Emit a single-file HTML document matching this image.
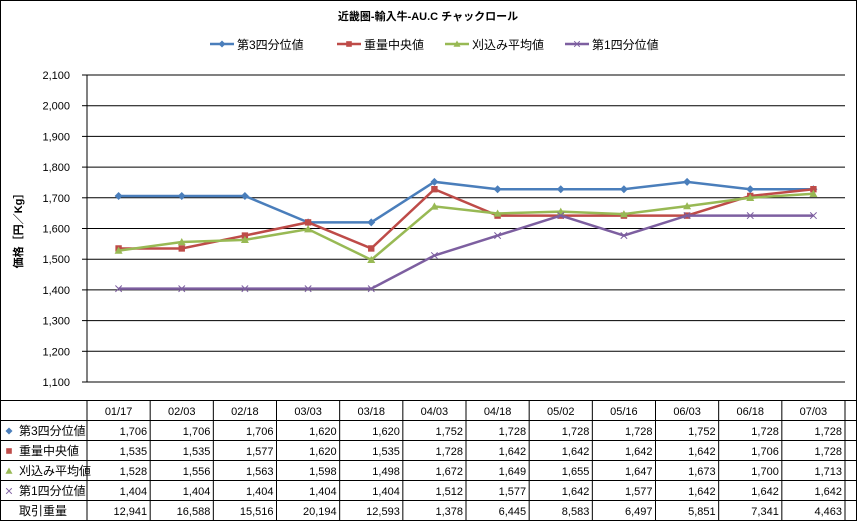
<!DOCTYPE html>
<html><head><meta charset="utf-8"><style>
body{margin:0;background:#fff;}
#wrap{position:relative;width:857px;height:521px;overflow:hidden;font-family:"Liberation Sans","Noto Sans CJK JP",sans-serif;}
svg text{font-family:"Liberation Sans","Noto Sans CJK JP",sans-serif;}
</style></head><body>
<div id="wrap">
<svg id="chart" width="857" height="521"></svg>
</div>
<script>
const categories=["01/17","02/03","02/18","03/03","03/18","04/03","04/18","05/02","05/16","06/03","06/18","07/03"];
const q3=[1706,1706,1706,1620,1620,1752,1728,1728,1728,1752,1728,1728];
const median=[1535,1535,1577,1620,1535,1728,1642,1642,1642,1642,1706,1728];
const avg=[1528,1556,1563,1598,1498,1672,1649,1655,1647,1673,1700,1713];
const q1=[1404,1404,1404,1404,1404,1512,1577,1642,1577,1642,1642,1642];
const volume=[12941,16588,15516,20194,12593,1378,6445,8583,6497,5851,7341,4463];
const yTicks=[1100,1200,1300,1400,1500,1600,1700,1800,1900,2000,2100];
const seriesNames=["第3四分位値","重量中央値","刈込み平均値","第1四分位値"];

const NS="http://www.w3.org/2000/svg";
const svg=document.getElementById('chart');
const L=87,R=845,T=75,B=382,yMin=1100,yMax=2100;
const colW=(R-L)/categories.length;
const x=i=>L+colW*(i+0.5);
const y=v=>B-(v-yMin)/(yMax-yMin)*(B-T);
function el(tag,attrs,text){const e=document.createElementNS(NS,tag);for(const k in attrs)e.setAttribute(k,attrs[k]);if(text!==undefined)e.textContent=text;svg.appendChild(e);return e;}
const fmt=v=>v.toLocaleString('en-US');

let e=el('rect',{x:0.5,y:0.5,width:856,height:520,fill:'#fff',stroke:'#000'});


e=el('text',{x:428,y:20,'font-size':11,'font-weight':'bold','text-anchor':'middle'},'近畿圏-輸入牛-AU.C チャックロール');



yTicks.forEach(t=>{
 let g=el('line',{x1:L,x2:R,y1:y(t),y2:y(t),stroke:'#000','stroke-width':1});
 
 
 let tk=el('line',{x1:L-5,x2:L,y1:y(t),y2:y(t),stroke:'#000'});
 
 
 let lb=el('text',{x:L-17,y:y(t)+4,'font-size':11,'text-anchor':'end'},fmt(t));
 
 
});
e=el('line',{x1:L,x2:L,y1:T,y2:B,stroke:'#000'});


e=el('text',{x:22,y:228,'font-size':11,'font-weight':'bold','text-anchor':'middle',transform:'rotate(-90 22 228)'},'価格［円／Kg］');



const series=[{d:q3,c:'#4a7ebb',m:'diamond'},{d:median,c:'#be4b48',m:'square'},{d:avg,c:'#98b954',m:'triangle'},{d:q1,c:'#7d5fa0',m:'x'}];
function marker(m,cx,cy,c,s){
 let mk;
 if(m==='diamond')mk=el('path',{d:`M${cx},${cy-s}L${cx+s},${cy}L${cx},${cy+s}L${cx-s},${cy}Z`,fill:c});
 else if(m==='square')mk=el('rect',{x:cx-s*0.8,y:cy-s*0.8,width:s*1.6,height:s*1.6,fill:c});
 else if(m==='triangle')mk=el('path',{d:`M${cx},${cy-s}L${cx+s},${cy+s*0.8}L${cx-s},${cy+s*0.8}Z`,fill:c});
 else mk=el('path',{d:`M${cx-s*0.8},${cy-s*0.8}L${cx+s*0.8},${cy+s*0.8}M${cx-s*0.8},${cy+s*0.8}L${cx+s*0.8},${cy-s*0.8}`,stroke:c,'stroke-width':1,fill:'none'});
 return mk;
}
series.forEach((s,si)=>{
 let p=el('polyline',{points:s.d.map((v,i)=>x(i)+','+y(v)).join(' '),fill:'none',stroke:s.c,'stroke-width':2.5});
 
 
 s.d.forEach((v,i)=>{
  let mk=marker(s.m,x(i),y(v),s.c,4);
  
  
 });
});

// legend
const legX=[210,337,445,565];
seriesNames.forEach((n,i)=>{
 const lx=legX[i],ly=44;
 let ln=el('line',{x1:lx,x2:lx+24,y1:ly,y2:ly,stroke:series[i].c,'stroke-width':2.5});
 
 
 let mk=marker(series[i].m,lx+12,ly,series[i].c,3.5);
 
 
 let t=el('text',{x:lx+27,y:ly+5,'font-size':12},n);
 
 
});

// table
const rowsY=[400,420,440,460,480,500,520];
rowsY.forEach(ry=>{let l=el('line',{x1:0,x2:857,y1:ry+0.5,y2:ry+0.5,stroke:'#000'});});
for(let i=0;i<=categories.length;i++){
 const cx=L+colW*i;
 let l=el('line',{x1:cx,x2:cx,y1:400,y2:521,stroke:'#000'});
 
 
}
categories.forEach((c,i)=>{
 let t=el('text',{x:x(i),y:415,'font-size':11,'text-anchor':'middle'},c);
 
 
});
const rows=[q3,median,avg,q1,volume];
const rowNames=seriesNames.concat(['取引重量']);
rows.forEach((r,ri)=>{
 const ty=rowsY[ri+1]+15;
 if(ri<4){let mk=marker(series[ri].m,9,ty-4,series[ri].c,3.5);}
 let h=el('text',{x:19,y:ty,'font-size':12},rowNames[ri]);
 
 
 r.forEach((v,i)=>{
  let t=el('text',{x:L+colW*(i+1)-3,y:ty,'font-size':11,'text-anchor':'end'},fmt(v));
  
  
 });
});
</script>
</body></html>
